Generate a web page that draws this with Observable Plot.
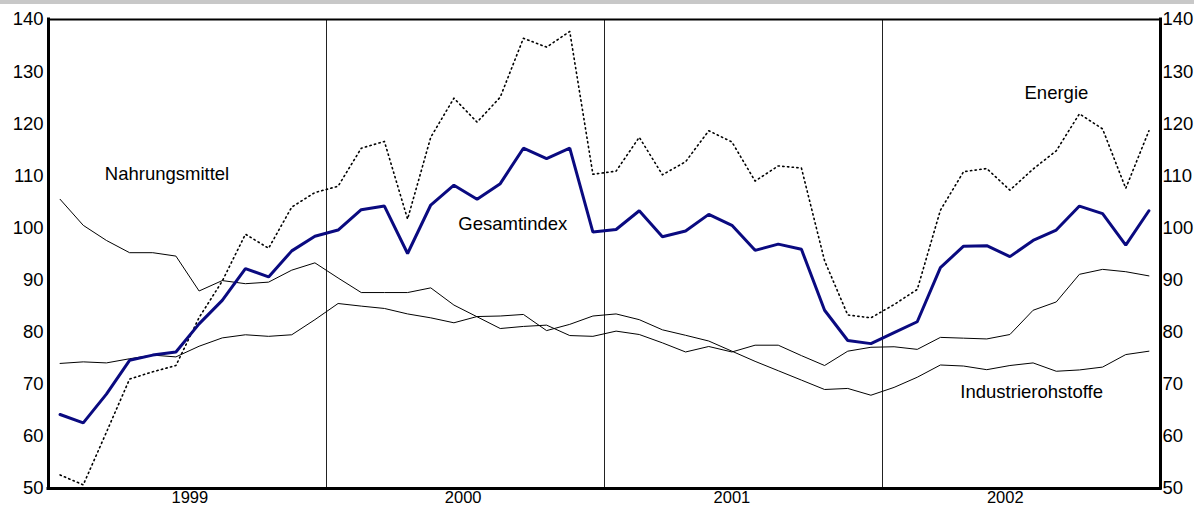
<!DOCTYPE html>
<html><head><meta charset="utf-8">
<script src="https://cdn.jsdelivr.net/npm/d3@7"></script>
<script src="https://cdn.jsdelivr.net/npm/@observablehq/plot@0.6"></script>
<style>
html,body{margin:0;padding:0;background:#fff;}
#wrap{position:relative;width:1194px;height:508px;overflow:hidden;}
#bar{position:absolute;left:0;top:0;width:1194px;height:4px;background:#c8c8c8;z-index:2;}
</style></head><body><div id="wrap"><div id="bar"></div></div>
<script>
const years = ["1999", "2000", "2001", "2002"];
const yearTickPos = [5.6, 17.4, 29.0, 40.8];
const yTicks = [50, 60, 70, 80, 90, 100, 110, 120, 130, 140];

const gesamtindex = [
  64.2, 62.6, 68.1, 74.6, 75.6, 76.2, 81.6, 86.1, 92.2, 90.6, 95.6, 98.4,
  99.6, 103.5, 104.2, 95.1, 104.4, 108.2, 105.5, 108.5, 115.3, 113.3, 115.3, 99.2,
  99.7, 103.3, 98.3, 99.4, 102.6, 100.5, 95.7, 96.9, 95.9, 84.2, 78.4, 77.8,
  79.9, 82.0, 92.4, 96.5, 96.6, 94.5, 97.6, 99.6, 104.2, 102.75, 96.7, 103.3
];
const energie = [
  52.6, 50.7, 60.8, 71.0, 72.4, 73.6, 82.8, 89.8, 98.8, 96.1, 104.0, 106.8,
  108.0, 115.3, 116.6, 101.7, 117.4, 124.9, 120.3, 125.1, 136.4, 134.7, 137.7, 110.3,
  110.9, 117.4, 110.2, 112.7, 118.65, 116.5, 109.0, 111.9, 111.5, 93.7, 83.3, 82.75,
  85.3, 88.2, 103.4, 110.8, 111.4, 107.25, 111.3, 114.8, 121.9, 119.0, 107.6, 118.65
];
const nahrungsmittel = [
  105.5, 100.5, 97.6, 95.25, 95.25, 94.6, 87.9, 89.9, 89.3, 89.6, 91.9, 93.3,
  90.4, 87.6, 87.6, 87.6, 88.5, 85.2, 82.95, 80.7, 81.1, 81.35, 79.35, 79.2,
  80.2, 79.55, 77.95, 76.2, 77.25, 76.2, 77.5, 77.5, 75.5, 73.6, 76.35, 77.1,
  77.2, 76.7, 79.0, 78.85, 78.7, 79.55, 84.2, 85.8, 91.1, 92.05, 91.6, 90.8
];
const industrierohstoffe = [
  74.0, 74.3, 74.1, 74.9, 75.6, 75.25, 77.3, 78.9, 79.5, 79.2, 79.5, 82.4,
  85.5, 85.0, 84.55, 83.5, 82.75, 81.8, 83.0, 83.1, 83.4, 80.3, 81.5, 83.1,
  83.5, 82.4, 80.45, 79.4, 78.3, 76.35, 74.4, 72.6, 70.8, 69.0, 69.2, 67.9,
  69.4, 71.35, 73.7, 73.5, 72.8, 73.6, 74.1, 72.5, 72.75, 73.3, 75.7, 76.35
];
const seriesLabels = [
  {text: "Nahrungsmittel", x: 1.93, y: 110.3},
  {text: "Gesamtindex", x: 17.19, y: 100.7},
  {text: "Energie", x: 41.63, y: 125.8},
  {text: "Industrierohstoffe", x: 38.86, y: 68.5}
];

const toRows = arr => arr.map((v, i) => ({i, v}));
const yearBounds = years.slice(1).map((_, k) => (k + 1) * 12 - 0.5);

const plot = Plot.plot({
  width: 1194,
  height: 508,
  marginLeft: 48,
  marginRight: 34,
  marginTop: 19,
  marginBottom: 20,
  style: {fontFamily: "'Liberation Sans', Arial, Helvetica, sans-serif", fontSize: "18.5px", color: "#000", background: "transparent"},
  x: {domain: [-0.5, 47.5], axis: null},
  y: {domain: [50, 140], axis: null},
  marks: [
    Plot.ruleX(yearBounds, {stroke: "#222", strokeWidth: 1}),
    Plot.line(toRows(nahrungsmittel), {x: "i", y: "v", stroke: "#000", strokeWidth: 1, strokeLinejoin: "miter"}),
    Plot.line(toRows(industrierohstoffe), {x: "i", y: "v", stroke: "#000", strokeWidth: 1, strokeLinejoin: "miter"}),
    Plot.line(toRows(energie), {x: "i", y: "v", stroke: "#000", strokeWidth: 1.6, strokeDasharray: "1.3,3.4"}),
    Plot.line(toRows(gesamtindex), {x: "i", y: "v", stroke: "#0a0a80", strokeWidth: 3, strokeLinejoin: "miter"}),
    Plot.ruleY([140], {stroke: "#000", strokeWidth: 2}),
    Plot.ruleY([50], {stroke: "#000", strokeWidth: 3, strokeLinecap: "square"}),
    Plot.ruleX([-0.5, 47.5], {stroke: "#000", strokeWidth: 3, strokeLinecap: "square"}),
    Plot.axisY(yTicks, {anchor: "left", tickSize: 0, tickPadding: 5, label: null}),
    Plot.axisY(yTicks, {anchor: "right", tickSize: 0, tickPadding: 2, label: null}),
    Plot.axisX(yearTickPos, {anchor: "bottom", tickSize: 0, tickPadding: 3, label: null, fontSize: 16.5,
      tickFormat: (d) => years[yearTickPos.indexOf(d)]}),
    Plot.text(seriesLabels, {x: "x", y: "y", text: "text", textAnchor: "start", fill: "#000"})
  ]
});
document.getElementById("wrap").appendChild(plot);
</script>
</body></html>
